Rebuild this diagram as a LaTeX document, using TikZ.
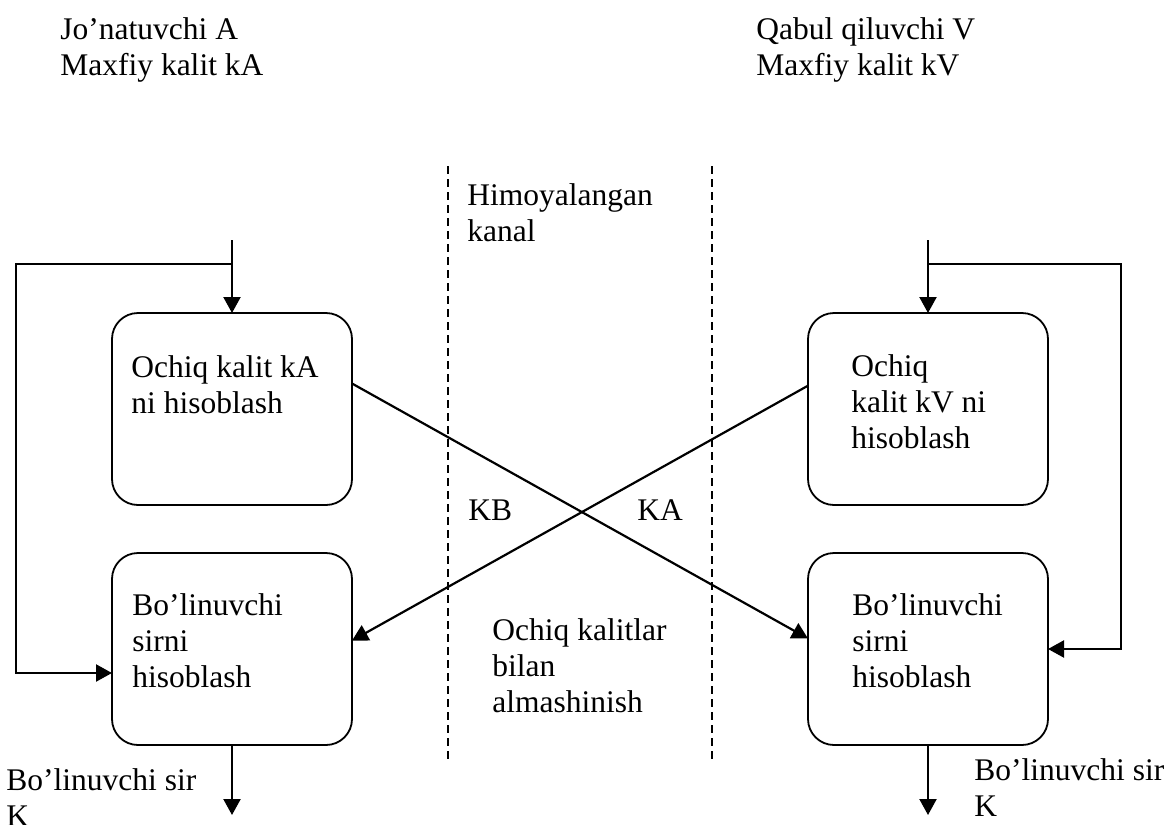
\documentclass[tikz,border=0pt]{standalone}
\usepackage{fontspec}
\setmainfont{Liberation Serif}
\usetikzlibrary{arrows.meta,positioning}

\begin{document}
\begin{tikzpicture}[x=0.5pt, y=-0.5pt, node distance=24pt and 228pt, box/.style={draw, rounded corners=13pt, line width=0.9pt, minimum width=120pt, minimum height=96pt, inner sep=0pt, outer sep=0pt}, txt/.style={anchor=north west, align=left, inner sep=0pt, font=\fontsize{15.75}{18}\selectfont}, arr/.style={-{Triangle[length=8pt, width=8.5pt]}, line width=1.1pt}, divider/.style={dash pattern=on 4pt off 2.5pt, line width=0.8pt}]
\useasboundingbox (0,0) rectangle (1168,825);
% headers
\node[txt] (sender) at (60,17) {Jo’natuvchi A\\Maxfiy kalit kA};
\node[txt] (receiver) at (756,17) {Qabul qiluvchi V\\Maxfiy kalit kV};
% channel
\coordinate (d1t) at (448,166);
\coordinate (d1b) at (448,763);
\coordinate (d2t) at (712,166);
\coordinate (d2b) at (712,763);
\draw[divider] (d1t) -- (d1b);
\draw[divider] (d2t) -- (d2b);
\node[txt] (chan) at (467,183) {Himoyalangan\\kanal};
\node[txt] (exch) at (492,618) {Ochiq kalitlar\\bilan\\almashinish};
% boxes
\node[box] (a1) at (232,409) {};
\node[box, below=of a1] (a2) {};
\node[box, right=of a1] (v1) {};
\node[box, right=of a2] (v2) {};
\node[txt] (a1t) at ([shift={(19,42)}]a1.north west) {Ochiq kalit kA\\ni hisoblash};
\node[txt] (a2t) at ([shift={(20,40)}]a2.north west) {Bo’linuvchi\\sirni\\hisoblash};
\node[txt] (v1t) at ([shift={(43,41)}]v1.north west) {Ochiq\\kalit kV ni\\hisoblash};
\node[txt] (v2t) at ([shift={(44,40)}]v2.north west) {Bo’linuvchi\\sirni\\hisoblash};
% inputs and feedback
\coordinate (inA) at (232,240);
\coordinate (jA) at (232,264);
\coordinate (lA) at (16,673);
\coordinate (inV) at (928,240);
\coordinate (jV) at (928,264);
\coordinate (lV) at (1121,649);
\draw[arr] (inA) -- (a1.north);
\draw[arr] (jA) -| (lA) -- (lA -| a2.west);
\draw[arr] (inV) -- (v1.north);
\draw[arr] (jV) -| (lV) -- (lV -| v2.east);
% key exchange
\draw[arr] (a1.12) -- (v2.175);
\draw[arr] (v1.169) -- (a2.4);
\node[txt, anchor=base west] (kb) at (468,520) {KB};
\node[txt, anchor=base west] (ka) at (637,520) {KA};
% outputs
\coordinate (outA) at (232,815);
\coordinate (outV) at (928,815);
\draw[arr] (a2.south) -- (outA);
\draw[arr] (v2.south) -- (outV);
\node[txt] (secA) at (6,768) {Bo’linuvchi sir\\K};
\node[txt] (secV) at (974,758) {Bo’linuvchi sir\\K};
\end{tikzpicture}
\end{document}
